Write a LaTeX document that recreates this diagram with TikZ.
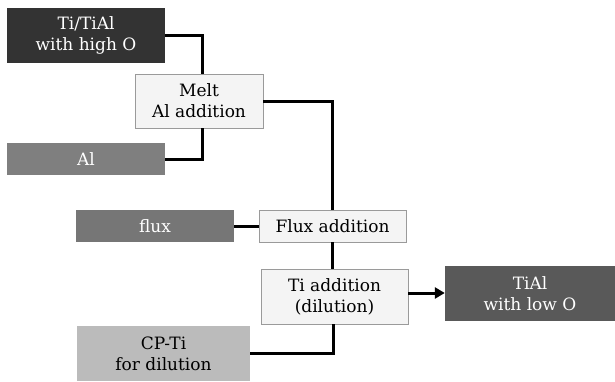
\documentclass[tikz,border=0pt]{standalone}
\usepackage{fontspec}
\setmainfont{DejaVu Serif}
\usetikzlibrary{arrows.meta}
\newcommand\boxfont{\fontsize{17pt}{21pt}\selectfont}
\definecolor{boxdark}{HTML}{333333}
\definecolor{boxal}{HTML}{7F7F7F}
\definecolor{boxflux}{HTML}{767676}
\definecolor{boxcp}{HTML}{BBBBBB}
\definecolor{boxtial}{HTML}{595959}
\definecolor{boxlight}{HTML}{F4F4F4}
\definecolor{boxedge}{HTML}{9A9A9A}
\tikzset{
  basebox/.style={inner sep=0pt, align=center, font=\boxfont},
  srcbox/.style={basebox, draw=none, text=white},
  procbox/.style={basebox, fill=boxlight, draw=boxedge, line width=0.8pt, text=black},
  conn/.style={line width=3pt, line cap=butt},
}
\begin{document}
\begin{tikzpicture}[x=1pt,y=-1pt]
\useasboundingbox[fill=white] (0,0) rectangle (615,381);
\node[srcbox, fill=boxdark, minimum width=158pt, minimum height=55pt] (titial) at (86,35.5) {Ti/TiAl\\with high O};
\node[procbox, minimum width=128pt, minimum height=54pt] (melt) at (199,101) {Melt\\Al addition};
\node[srcbox, fill=boxal, minimum width=158pt, minimum height=32pt] (al) at (86,159) {Al};
\node[srcbox, fill=boxflux, minimum width=158pt, minimum height=32pt] (flux) at (155,226) {flux};
\node[procbox, minimum width=147pt, minimum height=32pt] (fluxadd) at (332.5,226) {Flux addition};
\node[procbox, minimum width=147pt, minimum height=55pt] (tiadd) at (334.5,296.5) {Ti addition\\(dilution)};
\node[srcbox, fill=boxcp, text=black, minimum width=173pt, minimum height=55pt] (cpti) at (163.5,353.5) {CP-Ti\\for dilution};
\node[srcbox, fill=boxtial, minimum width=170pt, minimum height=55pt] (tial) at (530,293.5) {TiAl\\with low O};
\draw[conn] (titial.east) -| ([xshift=3pt]melt.north);
\draw[conn] (al.east) -| ([xshift=3pt]melt.south);
\draw[conn] (melt.east) -| (fluxadd.north);
\draw[conn] (flux.east) -- (fluxadd.west);
\draw[conn] (fluxadd.south) -- (fluxadd.south |- tiadd.north);
\draw[conn] (cpti.east |- 0,353) -| ([xshift=-1.5pt]tiadd.south);
\draw[conn, -{Triangle[length=10pt,width=11pt]}] (tiadd.east |- 0,293) -- (tial.west |- 0,293);
\end{tikzpicture}
\end{document}
